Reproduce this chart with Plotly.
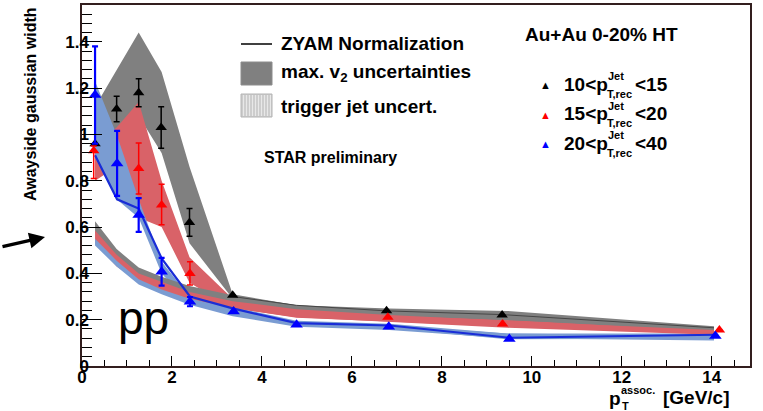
import plotly.graph_objects as go

# ---------------- data ----------------
band_x = [0.29, 0.77, 1.26, 1.77, 2.39, 3.35, 4.77, 6.83, 9.45, 14.05]

grey_hi = [1.12, 1.28, 1.44, 1.27, 0.86, 0.31, 0.262, 0.248, 0.238, 0.172]
grey_lo = [0.82, 1.00, 1.08, 0.92, 0.53, 0.29, 0.235, 0.212, 0.195, 0.145]
red_hi = [0.95, 1.03, 1.14, 0.80, 0.47, 0.29, 0.245, 0.222, 0.198, 0.160]
red_lo = [0.80, 0.86, 0.64, 0.60, 0.36, 0.25, 0.208, 0.192, 0.170, 0.138]
blue_hi = [1.23, 1.00, 0.72, 0.45, 0.30, 0.255, 0.195, 0.182, 0.140, 0.140]
blue_lo = [0.90, 0.72, 0.64, 0.40, 0.27, 0.228, 0.175, 0.163, 0.115, 0.118]

grey_pp_hi = [0.625, 0.505, 0.425, 0.385, 0.345, 0.305, 0.262, 0.240, 0.225, 0.168]
grey_pp_lo = [0.575, 0.465, 0.395, 0.350, 0.315, 0.275, 0.235, 0.215, 0.200, 0.148]
red_pp_hi = [0.585, 0.480, 0.400, 0.365, 0.320, 0.280, 0.245, 0.220, 0.195, 0.155]
red_pp_lo = [0.530, 0.430, 0.365, 0.320, 0.290, 0.250, 0.210, 0.190, 0.165, 0.135]
blue_pp_hi = [0.550, 0.455, 0.375, 0.330, 0.290, 0.245, 0.190, 0.175, 0.140, 0.130]
blue_pp_lo = [0.520, 0.430, 0.352, 0.310, 0.265, 0.215, 0.170, 0.155, 0.120, 0.110]

# ZYAM normalisation lines
blue_line_x = [0.29, 0.78, 1.26, 1.77, 2.40, 3.37, 4.77, 6.84, 9.50, 14.08]
blue_line_y = [0.91, 0.72, 0.68, 0.465, 0.30, 0.248, 0.185, 0.175, 0.122, 0.135]
black_line_x = [3.35, 4.77, 6.77, 9.34, 14.05]
black_line_y = [0.300, 0.262, 0.238, 0.222, 0.165]

# points: 10<pT<15 (black), 15<pT<20 (red), 20<pT<40 (blue)
black_x = [0.29, 0.77, 1.26, 1.76, 2.39, 3.35, 6.77, 9.34]
black_y = [0.96, 1.11, 1.18, 1.03, 0.62, 0.305, 0.239, 0.220]
black_err = [0.0, 0.055, 0.06, 0.09, 0.06, 0.0, 0.0, 0.0]

red_x = [0.26, 1.26, 1.77, 2.40, 6.80, 9.35, 14.17]
red_y = [0.93, 0.853, 0.695, 0.40, 0.210, 0.181, 0.155]
red_err_up = [0.02, 0.11, 0.09, 0.05, 0.0, 0.0, 0.0]
red_err_dn = [0.12, 0.11, 0.085, 0.05, 0.0, 0.0, 0.0]

blue_x = [0.29, 0.78, 1.26, 1.77, 2.40, 3.37, 4.77, 6.82, 9.50, 14.08]
blue_y = [1.17, 0.875, 0.652, 0.407, 0.278, 0.235, 0.178, 0.170, 0.117, 0.130]
blue_err = [0.21, 0.14, 0.073, 0.06, 0.02, 0.0, 0.0, 0.0, 0.0, 0.0]

x_ticks = [0, 2, 4, 6, 8, 10, 12, 14]
x_tick_text = ["0", "2", "4", "6", "8", "10", "12", "14"]
y_ticks = [0, 0.2, 0.4, 0.6, 0.8, 1.0, 1.2, 1.4]
y_tick_text = ["0", "0.2", "0.4", "0.6", "0.8", "1", "1.2", "1.4"]

# ---------------- styling ----------------
GREY = "rgb(128,128,128)"
RED_BAND = "rgb(217,98,104)"
BLUE_BAND = "rgb(122,156,210)"
FONT = "Liberation Sans, Arial, Helvetica, sans-serif"

# plot area in pixels
L, R, T, B = 82, 750, 5, 366
W, H = R - L, B - T


def pxx(v):
    return (v - L) / W


def pxy(v):
    return (B - v) / H


fig = go.Figure()


def band(xs, hi, lo, color):
    fig.add_trace(go.Scatter(
        x=list(xs) + list(xs)[::-1], y=list(hi) + list(lo)[::-1],
        fill="toself", fillcolor=color, mode="lines",
        line=dict(width=0, color=color), hoverinfo="skip", showlegend=False))


band(band_x, grey_hi, grey_lo, GREY)
band(band_x, red_hi, red_lo, RED_BAND)
band(band_x, blue_hi, blue_lo, BLUE_BAND)
band(band_x, grey_pp_hi, grey_pp_lo, GREY)
band(band_x, red_pp_hi, red_pp_lo, RED_BAND)
band(band_x, blue_pp_hi, blue_pp_lo, BLUE_BAND)

fig.add_trace(go.Scatter(x=black_line_x, y=black_line_y, mode="lines",
                         line=dict(color="rgb(70,70,70)", width=1), showlegend=False))
fig.add_trace(go.Scatter(x=blue_line_x, y=blue_line_y, mode="lines",
                         line=dict(color="rgb(25,45,215)", width=2.2), showlegend=False))

fig.add_trace(go.Scatter(
    x=black_x, y=black_y, mode="markers",
    marker=dict(symbol="triangle-up", size=10, color="black"),
    error_y=dict(type="data", array=black_err, color="black", thickness=1.5, width=3),
    showlegend=False))
fig.add_trace(go.Scatter(
    x=red_x, y=red_y, mode="markers",
    marker=dict(symbol="triangle-up", size=10, color="rgb(255,0,0)"),
    error_y=dict(type="data", symmetric=False, array=red_err_up, arrayminus=red_err_dn,
                 color="rgb(255,0,0)", thickness=1.5, width=3),
    showlegend=False))
fig.add_trace(go.Scatter(
    x=blue_x, y=blue_y, mode="markers",
    marker=dict(symbol="triangle-up", size=11, color="rgb(0,0,255)"),
    error_y=dict(type="data", array=blue_err, color="rgb(0,0,255)", thickness=2.2, width=3),
    showlegend=False))

# ---------------- annotations / legend ----------------
ann = []
shapes = []


def text(x, y, s, size, anchor="left", color="black", bold=True, angle=0):
    ann.append(dict(xref="paper", yref="paper", x=pxx(x), y=pxy(y),
                    text=("<b>" + s + "</b>") if bold else s,
                    showarrow=False, xanchor=anchor, yanchor="middle", textangle=angle,
                    font=dict(family=FONT, size=size, color=color)))


# axis titles
text(30, 104, "Awayside gaussian width", 16, anchor="center", angle=-90)
text(607, 398, "p", 19)
text(619, 390, "assoc.", 11)
text(620, 406, "T", 11)
text(661, 397, "[GeV/c]", 19)

# pp label
text(143, 318, "pp", 46, anchor="center", bold=False)

# arrow
ann.append(dict(xref="paper", yref="paper", x=pxx(45), y=pxy(237), ax=-44, ay=10,
                axref="pixel", ayref="pixel", showarrow=True, arrowhead=2,
                arrowsize=0.9, arrowwidth=3.5, arrowcolor="black", text=""))

# left legend
shapes.append(dict(type="line", xref="paper", yref="paper", x0=pxx(241), x1=pxx(272),
                   y0=pxy(44), y1=pxy(44), line=dict(color="black", width=1.5)))
text(279, 44, "ZYAM Normalization", 19)
shapes.append(dict(type="rect", xref="paper", yref="paper", x0=pxx(241), x1=pxx(272),
                   y0=pxy(85), y1=pxy(62), fillcolor=GREY, line=dict(width=1, color="rgb(140,140,140)")))
text(279, 73, "max. v<sub>2</sub> uncertainties", 19)
shapes.append(dict(type="rect", xref="paper", yref="paper", x0=pxx(241), x1=pxx(272),
                   y0=pxy(117), y1=pxy(94), fillcolor="rgb(205,205,205)",
                   line=dict(width=1, color="rgb(180,180,180)")))
for k in range(10):
    xx = 243.5 + 3 * k
    shapes.append(dict(type="line", xref="paper", yref="paper", x0=pxx(xx), x1=pxx(xx),
                       y0=pxy(116), y1=pxy(95), line=dict(color="rgb(232,232,232)", width=1)))
text(279, 106, "trigger jet uncert.", 19)
text(262, 158, "STAR preliminary", 16)

# right legend
text(523, 34, "Au+Au 0-20% HT", 19)
for i, (lo_, hi_, col) in enumerate([("10", "15", "black"), ("15", "20", "rgb(255,0,0)"),
                                      ("20", "40", "rgb(0,0,255)")]):
    yy = 84 + 29.5 * i
    text(545, yy + 1, "▲", 11, anchor="center", color=col, bold=False)
    text(562, yy, lo_ + "&lt;p", 19)
    text(606, yy - 8, "Jet", 11)
    text(605, yy + 10, "T,rec", 11)
    text(633, yy, "&lt;" + hi_, 19)

axis_line = "rgb(50,30,30)"
tickfont = dict(family=FONT, size=17, color="black")
fig.update_layout(
    width=763, height=411,
    margin=dict(l=L, r=763 - R, t=T, b=411 - B, pad=0),
    paper_bgcolor="white", plot_bgcolor="white",
    showlegend=False,
    annotations=ann, shapes=shapes,
    xaxis=dict(range=[0, 14.85], tickvals=x_ticks,
               ticktext=["<b>" + t + "</b>" for t in x_tick_text],
               ticks="inside", ticklen=10, automargin=False, ticklabelstandoff=-5,
               tickwidth=1.2, tickcolor="black", showgrid=False, zeroline=False,
               showline=True, linecolor=axis_line, linewidth=1.5, mirror=True,
               tickfont=tickfont,
               minor=dict(dtick=0.5, tick0=0, ticks="inside", ticklen=6,
                          tickcolor="black", tickwidth=1, showgrid=False)),
    yaxis=dict(range=[0, 1.559], tickvals=y_ticks,
               ticktext=["<b>" + t + "</b>" for t in y_tick_text], ticks="inside",
               ticklen=20, tickwidth=1.2, tickcolor="black", showgrid=False,
               zeroline=False, showline=True, linecolor=axis_line, linewidth=1.5,
               mirror=True, automargin=False, ticklabelstandoff=-12,
               tickfont=tickfont,
               minor=dict(dtick=0.04, tick0=0, ticks="inside", ticklen=10,
                          tickcolor="black", tickwidth=1, showgrid=False)),
)

fig.write_html("out.html", config={"displayModeBar": False},
               post_script="document.body.style.margin='0';document.body.style.padding='0';")
